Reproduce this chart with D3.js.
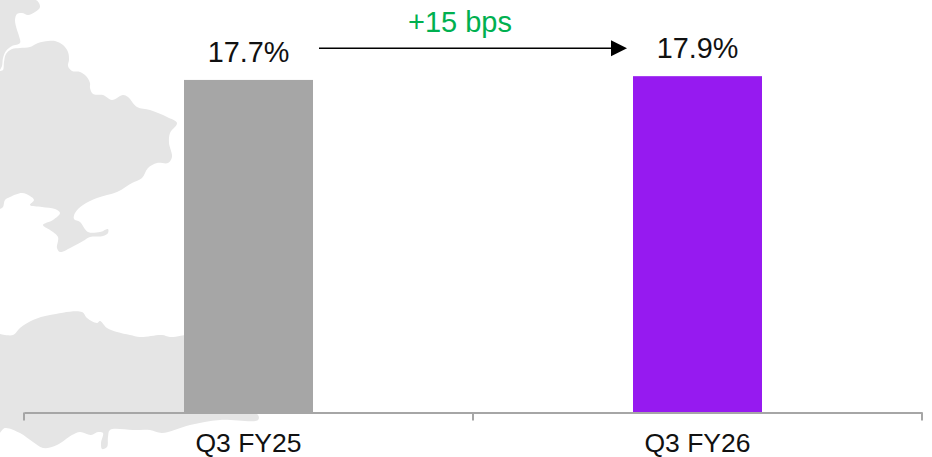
<!DOCTYPE html>
<html><head><meta charset="utf-8">
<script src="https://cdnjs.cloudflare.com/ajax/libs/d3/7.8.5/d3.min.js"></script>
<style>html,body{margin:0;padding:0;background:#fff}svg{display:block;font-family:"Liberation Sans",Arial,sans-serif}</style>
</head><body><svg id="c" width="932" height="457"></svg>
<script>
const categories = ["Q3 FY25", "Q3 FY26"];
const values = [17.7, 17.9];
const valueLabels = ["17.7%", "17.9%"];
const barColors = ["#a6a6a6", "#961af0"];
const changeLabel = "+15 bps";

// decorative background map outlines
const mapTop = [[0,0],[36,0],[40,7],[35,12],[28,15],[22,13],[17,14],[15,20],[17,30],[19,36],[20,43],[12,46],[6,51],[3,58],[2,66],[0,70]];
const mapMain = [[0,71],[3,70],[4,62],[6,54],[12,49],[20,48],[30,47],[38,43],[48,41],[55,41],[63,45],[68,52],[69,60],[68,66],[72,71],[80,72],[86,76],[90,83],[90,88],[93,94],[103,95],[112,100],[123,95],[128,97],[137,107],[150,110],[167,117],[177,123],[170,133],[169,143],[172,157],[168,163],[157,163],[148,168],[142,178],[132,183],[117,192],[97,198],[83,205],[75,213],[74,219],[80,222],[88,232],[100,232],[108,229],[108,233],[103,236],[90,237],[83,241],[72,247],[60,252],[57,248],[58,237],[50,230],[43,225],[53,220],[60,213],[55,209],[42,207],[30,205],[34,200],[30,196],[22,193],[10,197],[5,200],[3,207],[0,209]];
const mapLow = [[0,334],[13,335],[20,328],[33,320],[50,315],[82,312],[87,318],[97,323],[100,321],[107,328],[117,332],[130,335],[140,337],[162,335],[170,337],[200,337],[200,400],[258,415],[258,420],[220,420],[190,425],[162,433],[150,430],[133,430],[110,430],[108,437],[107,447],[102,449],[101,443],[103,433],[98,432],[91,435],[80,432],[72,435],[57,445],[43,448],[33,442],[20,433],[5,428],[0,433]];

const svg = d3.select("#c");
const mapLine = d3.line().curve(d3.curveCatmullRom.alpha(0.5));
const closeEdge = (p) => mapLine(p) + "Z";
svg.selectAll("path.map").data([mapTop, mapMain, mapLow]).join("path")
  .attr("class","map").attr("d", closeEdge).attr("fill","#e5e5e5");

const x = d3.scaleBand().domain(categories).range([24, 922]).padding(0);
const y = d3.scaleLinear().domain([0, 18]).range([412, 74.3]);
const barW = x.bandwidth() * 0.2873;

svg.selectAll("rect.bar").data(categories).join("rect")
  .attr("class","bar")
  .attr("x", d => x(d) + x.bandwidth()/2 - barW/2)
  .attr("width", barW)
  .attr("y", (d,i) => y(values[i]))
  .attr("height", (d,i) => y(0) - y(values[i]))
  .attr("fill", (d,i) => barColors[i]);

const axis = d3.axisBottom(x).tickSize(0).tickPadding(0);
const gx = svg.append("g").attr("transform","translate(0,412.5)").call(axis);
gx.select(".domain").attr("stroke","#a6a6a6").attr("stroke-width",2);
gx.selectAll(".tick line").remove();
gx.selectAll(".tick text").attr("y",39.5).attr("dy",0).attr("font-size",26.5)
  .attr("font-family",'"Liberation Sans",Arial,sans-serif').attr("fill","#111");
gx.selectAll("line.sep").data(x.domain().map(d=>x(d)).concat(x.range()[1])).join("line")
  .attr("class","sep").attr("x1",d=>d).attr("x2",d=>d).attr("y1",0).attr("y2",8)
  .attr("stroke","#a6a6a6").attr("stroke-width",2);

svg.selectAll("text.val").data(categories).join("text")
  .attr("class","val")
  .attr("x", d => x(d) + x.bandwidth()/2)
  .attr("y", (d,i) => y(values[i]) - 18)
  .attr("text-anchor","middle").attr("font-size",28.8).attr("fill","#111")
  .text((d,i) => valueLabels[i]);

// change arrow
const arrowY = y(values[1]) - 28;
const arrowX0 = x(categories[0]) + x.bandwidth()/2 + barW/2 + 6;
const arrowX1 = x(categories[1]) + x.bandwidth()/2 - barW/2 - 6;
svg.append("line").attr("x1",arrowX0).attr("x2",arrowX1-14).attr("y1",arrowY).attr("y2",arrowY)
  .attr("stroke","#000").attr("stroke-width",1.5);
svg.append("path")
  .attr("d", d3.line()([[arrowX1-16,arrowY-8],[arrowX1,arrowY],[arrowX1-16,arrowY+8]]) + "Z")
  .attr("fill","#000");
svg.append("text").attr("x",(arrowX0+arrowX1)/2-13).attr("y",arrowY-16)
  .attr("text-anchor","middle").attr("font-size",29).attr("fill","#00b050").text(changeLabel);
</script></body></html>
